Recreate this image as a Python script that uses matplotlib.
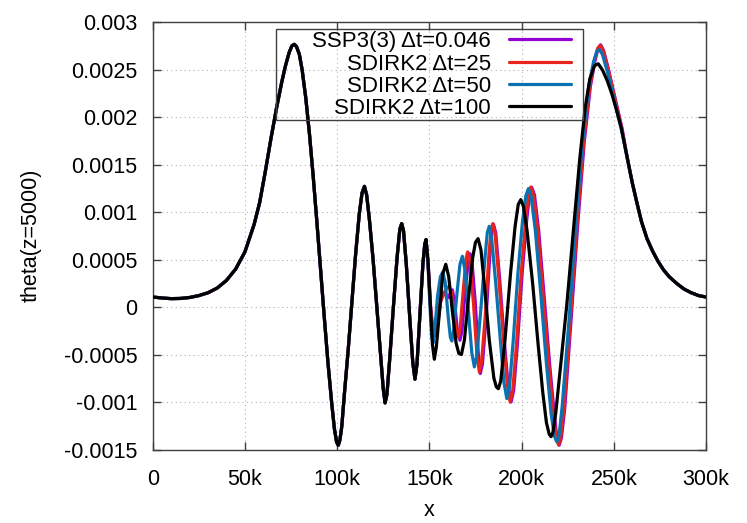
import matplotlib
matplotlib.use("Agg")
import matplotlib.pyplot as plt
import numpy as np
from matplotlib.patches import Rectangle

# ---------------- data (x in thousands, theta in 1e-3) ----------------
x_common = [0, 5, 10, 15, 20, 25, 30, 35, 40, 45, 50, 55, 58, 61, 64, 67, 70, 72, 74, 75.5,
            76.8, 78, 79.5, 81, 83, 85, 87, 89, 91, 93, 95, 97, 98.5, 99.7, 100.6, 101.5,
            102.5, 104, 106, 108, 110, 112, 113.5, 114.8, 116, 117.5, 119.5, 121.5, 123.5,
            125, 126, 127, 128.5, 130.5, 132.5, 134, 135, 136, 137.5, 139.5, 141, 142.2,
            143.3, 144.8, 146.5, 147.5]
y_common = [0.105, 0.095, 0.088, 0.09, 0.10, 0.12, 0.15, 0.20, 0.28, 0.40, 0.58, 0.87, 1.10,
            1.42, 1.76, 2.08, 2.37, 2.54, 2.68, 2.75, 2.765, 2.74, 2.66, 2.50, 2.20, 1.82,
            1.38, 0.90, 0.40, -0.10, -0.58, -1.00, -1.28, -1.42, -1.456, -1.40, -1.26, -0.90,
            -0.45, 0.05, 0.55, 0.98, 1.20, 1.27, 1.18, 0.92, 0.50, 0.00, -0.50, -0.86, -1.01,
            -0.92, -0.55, 0.00, 0.52, 0.82, 0.878, 0.80, 0.45, -0.15, -0.58, -0.76, -0.60,
            -0.10, 0.45, 0.66]

x_right = [257.5, 260, 262.5, 265, 268, 271, 274, 277, 280, 284, 288, 292, 296, 300]
y_right = [1.55, 1.31, 1.10, 0.90, 0.72, 0.59, 0.48, 0.39, 0.32, 0.25, 0.19, 0.15, 0.12, 0.105]

x_ssp = [148.2, 149.4, 150.7, 152.0, 153.4, 154.6, 156.3, 157.6, 159, 160.3, 161.5, 162.5,
         163.7, 165.2, 166.6, 167.7, 169.5, 171.2, 172.1, 173.2, 175, 176.5, 177.6, 178.8,
         180.8, 182.8, 183.9, 184.8, 186, 188.1, 190.6, 192.7, 194.3, 195.7, 197.8, 200.3,
         202.8, 204.3, 205.5, 207, 209.3, 212.3, 215.3, 217.7, 219.2, 220.4, 221.6, 223.4,
         226.9, 230.5, 234, 237.3, 239.9, 241.5, 242.9, 244.5, 247, 249.5, 252, 254.5]
y_ssp = [0.71, 0.45, 0.0, -0.25, -0.30, -0.17, 0.08, 0.15, 0.12, 0.10, 0.15, 0.18, 0.05,
         -0.25, -0.35, -0.25, 0.18, 0.50, 0.56, 0.46, 0.02, -0.48, -0.70, -0.60, -0.10, 0.55,
         0.79, 0.87, 0.78, 0.30, -0.35, -0.82, -1.00, -0.88, -0.38, 0.35, 0.92, 1.18, 1.26,
         1.18, 0.80, 0.10, -0.62, -1.12, -1.38, -1.455, -1.38, -1.07, -0.12, 0.88, 1.74,
         2.32, 2.60, 2.72, 2.76, 2.70, 2.51, 2.30, 2.09, 1.88]

x_dt25 = [148.2, 149.3, 150.5, 151.8, 153.0, 154.2, 156, 158, 159.5, 160.8, 162, 163.8, 165,
          165.7, 166.7, 168.5, 170, 170.8, 172, 174, 175.8, 177.1, 178.3, 180.3, 182.3, 183.4,
          184.4, 185.6, 187.7, 190.2, 192.3, 193.8, 195.2, 197.3, 199.8, 202.3, 203.8, 205.0,
          206.5, 208.8, 211.8, 214.8, 217.2, 218.8, 220.0, 221.2, 223, 226.5, 230.1, 233.7,
          237, 239.6, 241.2, 242.6, 244.2, 246.8, 249.3, 251.8, 254.3]
y_dt25 = [0.71, 0.45, 0.02, -0.25, -0.30, -0.18, 0.05, 0.15, 0.20, 0.22, 0.15, -0.15, -0.29,
          -0.316, -0.22, 0.20, 0.52, 0.58, 0.48, 0.02, -0.50, -0.684, -0.58, -0.10, 0.55, 0.80,
          0.878, 0.78, 0.30, -0.35, -0.82, -1.00, -0.88, -0.38, 0.35, 0.92, 1.18, 1.263, 1.18,
          0.80, 0.10, -0.62, -1.12, -1.38, -1.45, -1.38, -1.07, -0.12, 0.88, 1.74, 2.32, 2.60,
          2.72, 2.755, 2.70, 2.51, 2.30, 2.09, 1.88]

x_dt50 = [148.2, 149.2, 150.3, 151.2, 152.0, 153.0, 154.5, 156, 157.3, 158.6, 160.3, 161.4,
          162.2, 163.2, 165, 166.6, 167.9, 169.2, 171, 173, 174.4, 175.7, 177.8, 180, 181.4,
          182.5, 183.8, 186, 188.5, 190.5, 192, 193.4, 195.5, 198, 200.5, 202.3, 203.7, 205.2,
          207.5, 210.5, 213.5, 216, 217.8, 219.1, 220.3, 222, 225.8, 229.4, 233, 236.3, 239,
          240.8, 242.2, 243.8, 246.5, 249, 251.5, 254]
y_dt50 = [0.71, 0.48, 0.02, -0.30, -0.38, -0.22, 0.12, 0.32, 0.368, 0.26, -0.12, -0.32,
          -0.358, -0.24, 0.15, 0.45, 0.534, 0.40, 0.00, -0.48, -0.63, -0.52, -0.05, 0.48, 0.78,
          0.85, 0.72, 0.25, -0.35, -0.80, -0.964, -0.85, -0.35, 0.35, 0.90, 1.17, 1.246, 1.16,
          0.80, 0.12, -0.60, -1.12, -1.36, -1.42, -1.36, -1.05, -0.12, 0.88, 1.72, 2.30, 2.58,
          2.69, 2.71, 2.66, 2.48, 2.28, 2.08, 1.88]

x_dt100 = [148.2, 149.2, 150.5, 151.7, 152.7, 153.8, 155.5, 157.3, 158.9, 160.5, 162.5, 164.5,
           166, 167.4, 169, 171, 173.5, 175, 176.4, 178, 180, 182.5, 185, 186.3, 187.4, 188.7,
           191, 194, 196.5, 198.2, 199.6, 201, 203, 206, 209, 211.5, 213.5, 215, 216, 217,
           218.5, 221, 224.5, 228, 231.5, 234.5, 237, 239.5, 241.6, 244, 246.5, 249, 251.5, 254]
y_dt100 = [0.71, 0.50, 0.05, -0.40, -0.55, -0.42, -0.05, 0.35, 0.45, 0.32, -0.05, -0.38,
           -0.49, -0.50, -0.35, 0.05, 0.52, 0.68, 0.72, 0.60, 0.20, -0.35, -0.75, -0.84, -0.86,
           -0.78, -0.35, 0.35, 0.85, 1.08, 1.13, 1.06, 0.80, 0.25, -0.40, -0.90, -1.22, -1.34,
           -1.365, -1.32, -1.12, -0.65, 0.02, 0.78, 1.55, 2.10, 2.40, 2.54, 2.56, 2.49, 2.38,
           2.24, 2.07, 1.89]

labels = ["SSP3(3) \u0394t=0.046", "SDIRK2 \u0394t=25", "SDIRK2 \u0394t=50", "SDIRK2 \u0394t=100"]
colors = ["#9400d3", "#e8231b", "#0a72b0", "#000000"]
tails_x = [x_ssp, x_dt25, x_dt50, x_dt100]
tails_y = [y_ssp, y_dt25, y_dt50, y_dt100]

xticks = [0, 50, 100, 150, 200, 250, 300]
xtick_labels = ["0", "50k", "100k", "150k", "200k", "250k", "300k"]
yticks = [-1.5, -1.0, -0.5, 0.0, 0.5, 1.0, 1.5, 2.0, 2.5, 3.0]
ytick_labels = ["-0.0015", "-0.001", "-0.0005", "0", "0.0005", "0.001", "0.0015", "0.002",
                "0.0025", "0.003"]

# ---------------- figure ----------------
plt.rcParams["font.family"] = ["Liberation Sans", "DejaVu Sans"]
W, H = 747, 523
fig = plt.figure(figsize=(W / 100, H / 100), dpi=100)
L, R, T, B = 152.7, 706.0, 22.0, 449.5
ax = fig.add_axes([L / W, 1 - B / H, (R - L) / W, (B - T) / H])

fs = 15.5
fs_leg = 16
handles = []
for lab, c, tx, ty in zip(labels, colors, tails_x, tails_y):
    xs = np.array(x_common + tx + x_right) * 1000.0
    ys = np.array(y_common + ty + y_right) * 1e-3
    h, = ax.plot(xs, ys, color=c, lw=2.3, label=lab, solid_joinstyle="round",
                 solid_capstyle="round", zorder=3)
    handles.append(h)

ax.set_xlim(0, 300000)
ax.set_ylim(-0.0015, 0.003)
ax.set_xticks([v * 1000 for v in xticks])
ax.set_xticklabels(xtick_labels)
ax.set_yticks([v * 1e-3 for v in yticks])
ax.set_yticklabels(ytick_labels)
ax.tick_params(direction="in", length=6, width=1, color="#404040", labelsize=fs,
               top=True, right=True)
ax.tick_params(axis="y", pad=11)
ax.tick_params(axis="x", pad=14)
for s in ax.spines.values():
    s.set_color("#404040")
    s.set_linewidth(1.0)
ax.grid(True, color="#b0b0b0", lw=0.8, linestyle=(0, (1, 3)))
ax.set_axisbelow(True)

ax.set_xlabel("x", fontsize=fs, labelpad=7)
ax.set_ylabel("theta(z=5000)", fontsize=fs, labelpad=16)

# legend frame (transparent, curves show through)
fig.add_artist(Rectangle((276 / W, 1 - 120 / H), (583 - 276) / W, (120 - 29) / H,
                         transform=fig.transFigure, fill=False,
                         edgecolor="#404040", lw=1.0, zorder=5))
leg = fig.legend(handles=handles, labels=labels, loc="upper right",
                 bbox_to_anchor=(573 / W, 1 - 29 / H), frameon=False, markerfirst=False,
                 fontsize=fs_leg, handlelength=2.8, handletextpad=0.8, labelspacing=0.06,
                 borderpad=0.1, borderaxespad=0)
leg.set_zorder(6)

fig.savefig("out.png", dpi=100)
